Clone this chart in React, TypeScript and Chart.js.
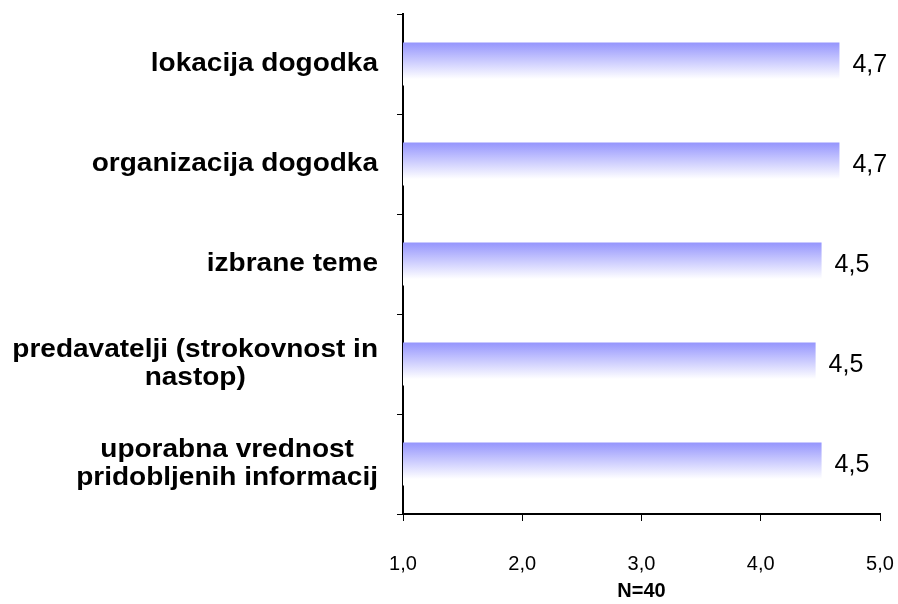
import React, { useEffect, useRef } from "react";
import { Chart, registerables } from "chart.js";

Chart.register(...registerables);

// ---- data ----
const categories: string[][] = [
  ["lokacija dogodka"],
  ["organizacija dogodka"],
  ["izbrane teme"],
  ["predavatelji (strokovnost in", "nastop)"],
  ["uporabna vrednost", "pridobljenih informacij"],
];
const values: number[] = [4.66, 4.66, 4.51, 4.46, 4.51];
const xMin = 1;
const xMax = 5;
const xStep = 1;
const xTitle = "N=40";

// ---- style ----
const FONT = '"Liberation Sans", Arial, Helvetica, sans-serif';
const W = 898;
const H = 604;
const BAR_PCT = 0.43;
const CAT_SIZE = 25;
const CAT_SX = 1.12;
const CAT_LH = 28;

const fmt = (v: number) => v.toFixed(1).replace(".", ",");

const categoryLabelsPlugin = {
  id: "categoryLabels",
  afterDraw(chart: any) {
    const ys = chart.scales.y;
    const ctx = chart.ctx;
    ctx.save();
    ctx.font = `bold ${CAT_SIZE}px ${FONT}`;
    ctx.fillStyle = "#000";
    ctx.textAlign = "center";
    ctx.textBaseline = "middle";
    const right = ys.right - 25;
    categories.forEach((lines, i) => {
      const cy = ys.getPixelForValue(i);
      const widths = lines.map((l) => ctx.measureText(l).width * CAT_SX);
      const bw = Math.max(...widths);
      const cx = right - bw / 2;
      lines.forEach((l, j) => {
        const y = cy + (j - (lines.length - 1) / 2) * CAT_LH;
        ctx.save();
        ctx.translate(cx, y);
        ctx.scale(CAT_SX, 1);
        ctx.fillText(l, 0, 0);
        ctx.restore();
      });
    });
    ctx.restore();
  },
};

const valueLabelsPlugin = {
  id: "valueLabels",
  afterDatasetsDraw(chart: any) {
    const ctx = chart.ctx;
    const meta = chart.getDatasetMeta(0);
    ctx.save();
    ctx.font = `25px ${FONT}`;
    ctx.fillStyle = "#000";
    ctx.textAlign = "left";
    ctx.textBaseline = "middle";
    meta.data.forEach((el: any, i: number) => {
      ctx.fillText(fmt(values[i]), el.x + 13, el.y + 1);
    });
    ctx.restore();
  },
};

export default function App() {
  const ref = useRef<HTMLCanvasElement | null>(null);

  useEffect(() => {
    if (!ref.current) return;
    const chart = new Chart(ref.current, {
      type: "bar",
      data: {
        labels: categories.map((c) => c.join(" ")),
        datasets: [
          {
            data: values,
            borderWidth: 0,
            categoryPercentage: 1,
            barPercentage: BAR_PCT,
            backgroundColor: (c: any) => {
              const chart = c.chart;
              const ys = chart.scales && chart.scales.y;
              if (!ys || c.dataIndex === undefined) return "#9999ff";
              const cy = ys.getPixelForValue(c.dataIndex);
              const th = ((ys.bottom - ys.top) / categories.length) * BAR_PCT;
              if (!Number.isFinite(cy) || !Number.isFinite(th) || th <= 0) return "#9999ff";
              const g = chart.ctx.createLinearGradient(0, cy - th / 2, 0, cy + th / 2);
              g.addColorStop(0, "#9595fd");
              g.addColorStop(0.85, "#ffffff");
              g.addColorStop(1, "#ffffff");
              return g;
            },
          },
        ],
      },
      options: {
        indexAxis: "y",
        animation: false,
        responsive: false,
        maintainAspectRatio: false,
        layout: { padding: { left: 0, right: 18, top: 14, bottom: 0 } },
        plugins: {
          legend: { display: false },
          tooltip: { enabled: false },
        },
        scales: {
          y: {
            type: "category",
            ticks: { display: false },
            grid: {
              offset: true,
              drawOnChartArea: false,
              drawTicks: true,
              tickLength: 6,
              color: "#000",
              lineWidth: 1,
            },
            border: { display: true, color: "#000", width: 2 },
            afterFit: (s: any) => {
              s.width = 403;
            },
          },
          x: {
            type: "linear",
            min: xMin,
            max: xMax,
            ticks: {
              stepSize: xStep,
              color: "#000",
              font: { family: FONT, size: 20 },
              padding: 31,
              maxRotation: 0,
              callback: (v: any) => fmt(Number(v)),
            },
            grid: {
              drawOnChartArea: false,
              drawTicks: true,
              tickLength: 7,
              color: "#000",
              lineWidth: 1,
            },
            border: { display: true, color: "#000", width: 2 },
            title: {
              display: true,
              text: xTitle,
              color: "#000",
              font: { family: FONT, size: 20, weight: "bold" },
              padding: { top: 0, bottom: 1 },
            },
            afterFit: (s: any) => {
              s.height = 90;
              s.paddingRight = 0;
              s.paddingLeft = 0;
            },
          },
        },
      },
      plugins: [categoryLabelsPlugin, valueLabelsPlugin],
    } as any);
    return () => chart.destroy();
  }, []);

  return (
    <div style={{ position: "absolute", left: 0, top: 0, width: W, height: H, background: "#fff" }}>
      <canvas ref={ref} width={W} height={H} style={{ display: "block", width: W, height: H }} />
    </div>
  );
}
